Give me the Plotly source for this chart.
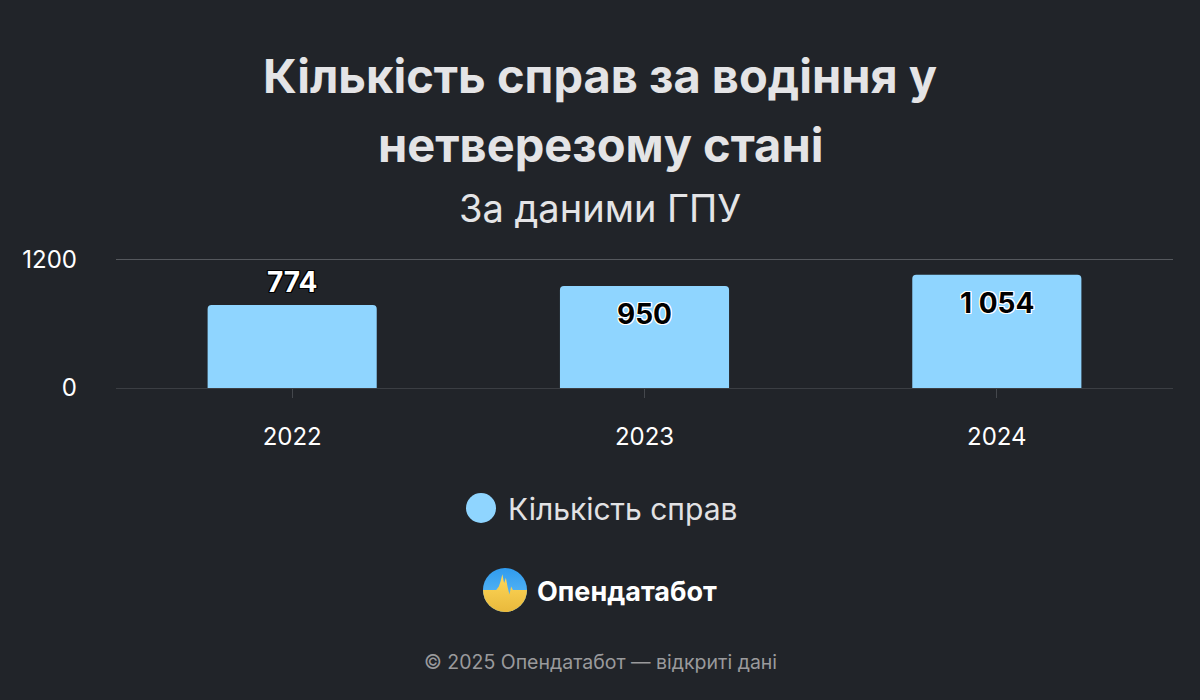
import base64
import plotly.graph_objects as go

# ---- data ----
years = ["2022", "2023", "2024"]
cases = [774, 950, 1054]
label_inside = [False, True, True]
y_ticks = [0, 1200]
series_name = "Кількість справ"
title_line1 = "Кількість справ за водіння у"
title_line2 = "нетверезому стані"
subtitle = "За даними ГПУ"
brand = "Опендатабот"
footer = "© 2025 Опендатабот — відкриті дані"

# ---- geometry helpers ----
W, H = 1200, 700
L, R, T, B = 116, 27, 257, 312
PW, PH = W - L - R, H - T - B


def px(x):
    return (x - L) / PW


def py(y):
    return (H - B - y) / PH


BG = "#212429"
BAR = "#8fd5ff"
FONT = "Inter, Roboto, 'Noto Sans', sans-serif"

white_outline = ", ".join(f"{dx}px {dy}px 0 #ffffff" for dx in (-1, 0, 1) for dy in (-1, 0, 1) if dx or dy)
black_outline = ", ".join(f"{dx}px {dy}px 0 #000000" for dx in (-1, 0, 1) for dy in (-1, 0, 1) if dx or dy)

fig = go.Figure()
fig.add_trace(go.Bar(
    x=years,
    y=cases,
    name=series_name,
    marker=dict(color=BAR, cornerradius=4, line=dict(width=0)),
    width=0.48,
    showlegend=False,
    hoverinfo="skip",
))

# value labels anchored to the bars through the axes (category index, value)
annotations = []
for i, (v, inside) in enumerate(zip(cases, label_inside)):
    annotations.append(dict(
        x=i, y=v, xref="x", yref="y", showarrow=False,
        text=f"<b>{v:,}</b>".replace(",", " "),
        yanchor="middle", xanchor="center",
        yshift=-28 if inside else 23,
        font=dict(family=FONT, size=28,
                  color="#000000" if inside else "#ffffff",
                  shadow=white_outline if inside else black_outline),
    ))

# logo svg
svg = """<svg xmlns='http://www.w3.org/2000/svg' width='100' height='100' viewBox='0 0 100 100'>
<defs>
<linearGradient id='b' x1='0' y1='0' x2='0' y2='1'><stop offset='0' stop-color='#2f9bef'/><stop offset='1' stop-color='#6cc3f7'/></linearGradient>
<linearGradient id='y' x1='0' y1='0' x2='0' y2='1'><stop offset='0' stop-color='#ffd95a'/><stop offset='1' stop-color='#e9b93c'/></linearGradient>
<clipPath id='c'><circle cx='50' cy='50' r='50'/></clipPath>
</defs>
<g clip-path='url(#c)'>
<rect width='100' height='100' fill='url(#b)'/>
<path d='M0 50 L30 50 L36 42 L40 30 L44 14 L48 34 L52 22 L56 44 L60 60 L64 42 L68 50 L100 50 L100 100 L0 100 Z' fill='url(#y)'/>
</g>
</svg>"""
logo_src = "data:image/svg+xml;base64," + base64.b64encode(svg.encode()).decode()

texts = [
    dict(text=f"<b>{title_line1}</b>", x=px(600), y=py(75), font=dict(size=47, color="#e4e4e6")),
    dict(text=f"<b>{title_line2}</b>", x=px(600), y=py(144), font=dict(size=47, color="#e4e4e6")),
    dict(text=subtitle, x=px(600), y=py(208), font=dict(size=38, color="#e4e4e6")),
    dict(text=series_name, x=px(506), y=py(509), xanchor="left", font=dict(size=30, color="#e2e2e4")),
    dict(text=f"<b>{brand}</b>", x=px(535), y=py(591), xanchor="left", font=dict(size=27, color="#ffffff")),
    dict(text=footer, x=px(600), y=py(662), font=dict(size=19.5, color="#9a9a9c")),
]
for a in texts:
    a.update(xref="paper", yref="paper", showarrow=False, yanchor="middle",
             xanchor=a.get("xanchor", "center"))
    a["font"]["family"] = FONT
annotations += texts

fig.update_layout(
    width=W, height=H,
    margin=dict(l=L, r=R, t=T, b=B),
    paper_bgcolor=BG, plot_bgcolor=BG,
    separators=", ",
    font=dict(family=FONT, color="#ffffff"),
    annotations=annotations,
    shapes=[dict(type="circle", xref="paper", yref="paper",
                 x0=px(466), x1=px(496), y0=py(493), y1=py(523),
                 fillcolor=BAR, line=dict(width=0))],
    images=[dict(source=logo_src, xref="paper", yref="paper",
                 x=px(483), y=py(568), sizex=44 / PW, sizey=44 / PH,
                 xanchor="left", yanchor="top", sizing="stretch", layer="above")],
    showlegend=False,
)
fig.update_xaxes(
    type="category",
    range=[-0.5, len(years) - 0.5],
    showgrid=False,
    showline=False,
    ticks="outside", ticklen=9, tickwidth=1, tickcolor="#44474c",
    tickfont=dict(size=24, color="#ffffff"),
    ticklabelstandoff=18,
    zeroline=False,
)
fig.update_yaxes(
    range=[0, 1220],
    tickvals=y_ticks,
    tickformat="d",
    showgrid=True, gridcolor="#55585d", gridwidth=1,
    zeroline=True, zerolinecolor="#3b3e43", zerolinewidth=1,
    tickfont=dict(size=24, color="#ffffff"),
    ticks="", ticklabelstandoff=38,
    showline=False,
)

fig.write_html("out.html", config={"displayModeBar": False},
               post_script="document.body.style.margin='0';")
